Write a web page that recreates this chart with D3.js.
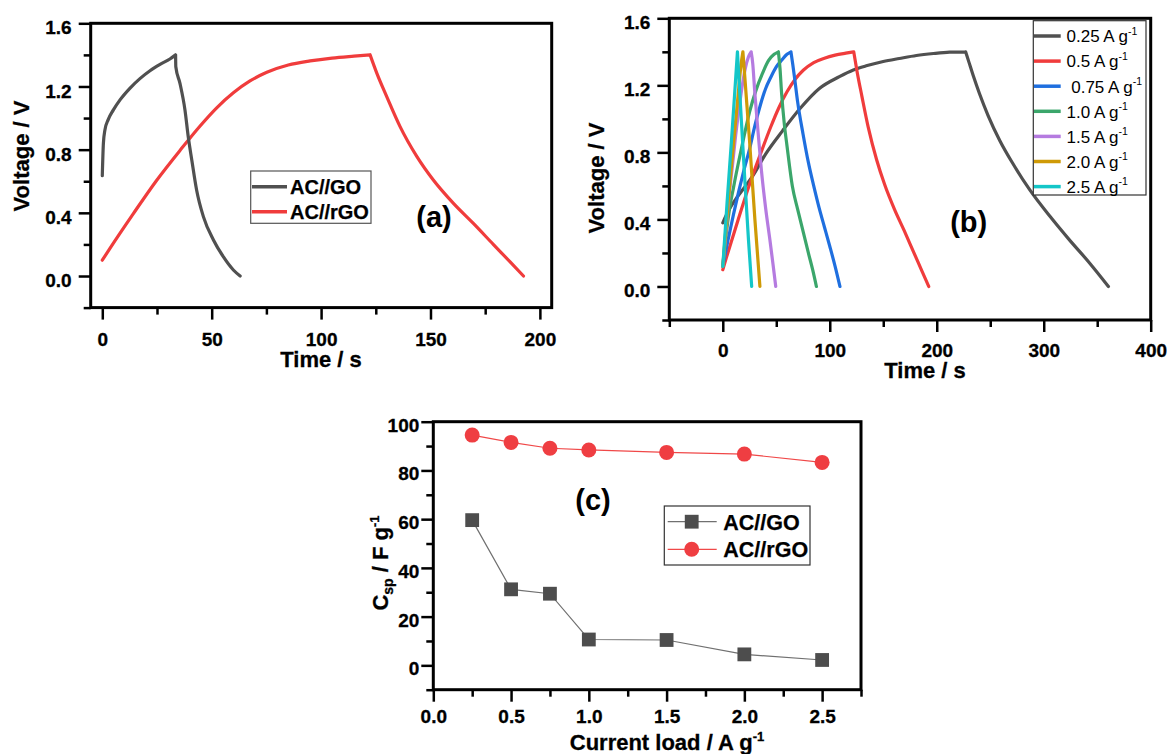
<!DOCTYPE html>
<html>
<head>
<meta charset="utf-8">
<script src="https://cdn.jsdelivr.net/npm/d3@7"></script>
<style>
  body { margin: 0; background: #fff; }
  svg text { font-family: "Liberation Sans", Arial, sans-serif; }
</style>
</head>
<body>
<svg id="fig" width="1167" height="754"></svg>
<script>
// ---------- (a) charge–discharge of the two devices ----------
const goTime  = [0, 0.5, 1.2, 2.7, 5, 8.1, 12.7, 17.2, 21.8, 26.4, 30.9, 33.5, 33.6, 35.5, 37.8, 39.3, 40.9, 43.1, 46.2, 50.8, 55.3, 59.9, 63];
const goVolt  = [0.635, 0.84, 0.925, 0.99, 1.05, 1.115, 1.19, 1.25, 1.30, 1.34, 1.374, 1.40, 1.325, 1.22, 1.05, 0.88, 0.735, 0.545, 0.376, 0.228, 0.122, 0.038, 0];
const rgoTime = [0, 3.5, 14.2, 24.8, 35.5, 44.7, 52.3, 59.9, 67.5, 75.2, 85, 95, 105, 115, 122.4, 125.5, 130, 136.1, 143.8, 151.3, 160.5, 169.6, 178.8, 186.4, 192.5];
const rgoVolt = [0.10, 0.175, 0.395, 0.605, 0.795, 0.95, 1.065, 1.16, 1.235, 1.29, 1.336, 1.362, 1.380, 1.392, 1.40, 1.283, 1.136, 0.946, 0.756, 0.608, 0.46, 0.333, 0.199, 0.089, 0];
const deviceNames = ["AC//GO", "AC//rGO"];

// ---------- (b) AC//rGO at different current densities ----------
const t025 = [0, 6, 12, 19, 28, 40, 56, 72, 90, 109, 122, 135, 150, 165, 181, 197, 212, 227, 230, 234, 240, 248, 259, 271, 287, 306, 324, 343, 360.5];
const v025 = [0.38, 0.46, 0.52, 0.58, 0.66, 0.79, 0.93, 1.06, 1.18, 1.252, 1.292, 1.318, 1.342, 1.36, 1.378, 1.39, 1.398, 1.40, 1.34, 1.26, 1.15, 1.02, 0.87, 0.735, 0.576, 0.417, 0.278, 0.139, 0];
const t05 = rgoTime, v05 = rgoVolt;
const t075 = [0, 5, 10, 15, 20, 25, 30, 35, 40, 45, 50, 55, 60, 63.7, 65.3, 67, 70, 75, 80, 85, 90, 95, 100, 105, 109.5];
const v075 = [0.12, 0.28, 0.43, 0.57, 0.70, 0.82, 0.96, 1.08, 1.18, 1.25, 1.31, 1.35, 1.385, 1.40, 1.33, 1.25, 1.10, 0.91, 0.74, 0.60, 0.47, 0.355, 0.24, 0.12, 0];
const t10 = [0, 3, 6, 10, 15, 20, 25, 31, 37, 43, 48, 52, 53.5, 55, 57.5, 60, 65, 70, 75, 80, 84, 87.5];
const v10 = [0.12, 0.30, 0.45, 0.59, 0.75, 0.90, 1.04, 1.17, 1.27, 1.35, 1.385, 1.40, 1.30, 1.15, 0.97, 0.84, 0.60, 0.46, 0.33, 0.20, 0.10, 0];
const t15 = [0, 3, 6, 9, 12, 15, 18, 21, 24, 26.5, 28, 30, 33, 36, 40, 44, 47, 49.5];
const v15 = [0.12, 0.33, 0.55, 0.72, 0.90, 1.05, 1.19, 1.30, 1.37, 1.40, 1.33, 1.15, 0.92, 0.70, 0.47, 0.28, 0.13, 0];
const t20 = [0, 5, 10, 14, 17, 18.8, 20, 25, 30, 34.7];
const v20 = [0.12, 0.50, 0.85, 1.12, 1.32, 1.40, 1.30, 0.87, 0.40, 0];
const t25 = [0, 4, 8, 11, 13.7, 15, 20, 24, 27];
const v25 = [0.12, 0.50, 0.86, 1.14, 1.40, 1.25, 0.70, 0.28, 0];
const rateLabels = ["0.25 A g", "0.5 A g", " 0.75 A g", "1.0 A g", "1.5 A g", "2.0 A g", "2.5 A g"];
const rateColors = ["#505050", "#f03c3c", "#1f6fdf", "#3ba66b", "#b57be0", "#cf9a06", "#14c6c8"];

// ---------- (c) specific capacitance vs current load ----------
const currentLoad = [0.25, 0.5, 0.75, 1.0, 1.5, 2.0, 2.5];
const cspGO  = [59.6, 31.2, 29.4, 10.6, 10.4, 4.5, 2.2];
const cspRGO = [94.5, 91.5, 89.1, 88.4, 87.4, 86.7, 83.3];

// tick values
const vMajor = [0, 0.4, 0.8, 1.2, 1.6];
const vMinor = [-0.2, 0.2, 0.6, 1.0, 1.4];
const tMajorA = [0, 50, 100, 150, 200];
const tMinorA = [25, 75, 125, 175];
const tMajorB = [0, 100, 200, 300, 400];
const tMinorB = [-50, 50, 150, 250, 350];
const cMajorY = [0, 20, 40, 60, 80, 100];
const cMinorY = [-10, 10, 30, 50, 70, 90];
const cMajorX = [0, 0.5, 1.0, 1.5, 2.0, 2.5];
const cMinorX = [0.25, 0.75, 1.25, 1.75, 2.25, 2.75];

const svg = d3.select("#fig");
const SANS = '"Liberation Sans", Arial, sans-serif';
const SERIF = '"Liberation Serif", "Times New Roman", serif';

function makePanel(c) {
  const g = svg.append("g");
  const x = d3.scaleLinear().domain(c.xDomain).range(c.xRange);
  const y = d3.scaleLinear().domain(c.yDomain).range(c.yRange);
  const bottom = c.yRange[0], left = c.xRange[0];

  const styleAxis = sel => {
    sel.select(".domain").remove();
    sel.selectAll(".tick line").attr("stroke", "#000").attr("stroke-width", 2.5);
    sel.selectAll("text").attr("font-family", SANS).attr("font-weight", "bold")
      .attr("font-size", 19).attr("fill", "#000")
      .attr("stroke", "#000").attr("stroke-width", 0.3);
  };

  g.append("g").attr("transform", `translate(0,${bottom})`)
    .call(d3.axisBottom(x).tickValues(c.xMinor).tickSize(7).tickFormat(""))
    .call(styleAxis);
  g.append("g").attr("transform", `translate(0,${bottom})`)
    .call(d3.axisBottom(x).tickValues(c.xMajor).tickSize(12).tickPadding(c.xPad).tickFormat(c.xFmt))
    .call(styleAxis);
  g.append("g").attr("transform", `translate(${left},0)`)
    .call(d3.axisLeft(y).tickValues(c.yMinor).tickSize(7).tickFormat(""))
    .call(styleAxis);
  const ya = g.append("g").attr("transform", `translate(${left},0)`)
    .call(d3.axisLeft(y).tickValues(c.yMajor).tickSize(12).tickPadding(c.yPad).tickFormat(c.yFmt))
    .call(styleAxis);
  ya.selectAll("text").attr("dy", c.yDy);

  g.append("rect")
    .attr("x", c.xRange[0]).attr("y", c.yRange[1])
    .attr("width", c.xRange[1] - c.xRange[0]).attr("height", c.yRange[0] - c.yRange[1])
    .attr("fill", "none").attr("stroke", "#000").attr("stroke-width", 3);

  const plot = g.append("g");
  return { g, plot, x, y };
}

// a curve drawn as a charge branch and a discharge branch joined at the peak
function chargeDischargePath(x, y, T, V) {
  const pts = d3.zip(T, V);
  const peak = d3.maxIndex(V);
  const line = d3.line().x(d => x(d[0])).y(d => y(d[1])).curve(d3.curveMonotoneX);
  return line(pts.slice(0, peak + 1)) + line(pts.slice(peak));
}

function supText(sel, base, sup, supSize, rise) {
  sel.append("tspan").text(base);
  sel.append("tspan").attr("font-size", supSize).attr("dy", -rise).text(sup);
}

function boldTitle(sel) {
  return sel.attr("font-family", SANS).attr("font-weight", "bold").attr("font-size", 22)
    .attr("stroke", "#000").attr("stroke-width", 0.3);
}

// ================= panel (a) =================
const A = makePanel({
  xDomain: [-5.3, 205.4], xRange: [90.7, 551.7],
  yDomain: [-0.2, 1.6], yRange: [307.6, 23.3],
  xMajor: tMajorA, xMinor: tMinorA, yMajor: vMajor, yMinor: vMinor,
  xFmt: d3.format("d"), yFmt: d3.format(".1f"), xPad: 12.5, yPad: 7, yDy: "0.56em"
});
A.plot.append("path").attr("d", chargeDischargePath(A.x, A.y, rgoTime, rgoVolt))
  .attr("fill", "none").attr("stroke", rateColors[1]).attr("stroke-width", 3.2)
  .attr("stroke-linecap", "round").attr("stroke-linejoin", "round");
A.plot.append("path").attr("d", chargeDischargePath(A.x, A.y, goTime, goVolt))
  .attr("fill", "none").attr("stroke", rateColors[0]).attr("stroke-width", 3.2)
  .attr("stroke-linecap", "round").attr("stroke-linejoin", "round");

boldTitle(svg.append("text")).attr("x", 321).attr("y", 367).attr("text-anchor", "middle").text("Time / s");
boldTitle(svg.append("text")).attr("transform", "translate(29,156) rotate(-90)").attr("text-anchor", "middle").text("Voltage / V");

const legA = svg.append("g");
legA.append("rect").attr("x", 250.7).attr("y", 171).attr("width", 120.3).attr("height", 52.3)
  .attr("fill", "#fff").attr("stroke", "#555").attr("stroke-width", 1.2);
deviceNames.forEach((name, i) => {
  const yy = 186.7 + i * 25;
  legA.append("line").attr("x1", 252).attr("x2", 287).attr("y1", yy).attr("y2", yy)
    .attr("stroke", rateColors[i]).attr("stroke-width", 3.5);
  legA.append("text").attr("x", 290).attr("y", yy + 7).attr("font-family", SANS)
    .attr("font-weight", "bold").attr("font-size", 20).attr("stroke", "#000").attr("stroke-width", 0.25).text(name);
});
svg.append("text").attr("x", 434).attr("y", 227).attr("text-anchor", "middle")
  .attr("font-family", SERIF).attr("font-weight", "bold").attr("font-size", 29).text("(a)");

// ================= panel (b) =================
const B = makePanel({
  xDomain: [-50, 400], xRange: [669.3, 1150.7],
  yDomain: [-0.2, 1.6], yRange: [320, 18.3],
  xMajor: tMajorB, xMinor: tMinorB, yMajor: vMajor, yMinor: vMinor,
  xFmt: d3.format("d"), yFmt: d3.format(".1f"), xPad: 12, yPad: 7, yDy: "0.54em"
});
const rateSeries = [[t025, v025], [t05, v05], [t075, v075], [t10, v10], [t15, v15], [t20, v20], [t25, v25]];
rateSeries.forEach(([T, V], i) => {
  B.plot.append("path").attr("d", chargeDischargePath(B.x, B.y, T, V))
    .attr("fill", "none").attr("stroke", rateColors[i]).attr("stroke-width", 3.2)
    .attr("stroke-linecap", "round").attr("stroke-linejoin", "round");
});

boldTitle(svg.append("text")).attr("x", 925).attr("y", 378).attr("text-anchor", "middle").text("Time / s");
boldTitle(svg.append("text")).attr("transform", "translate(604,178) rotate(-90)").attr("text-anchor", "middle").text("Voltage / V");

const legB = svg.append("g");
legB.append("rect").attr("x", 1033.3).attr("y", 20.7).attr("width", 112.7).attr("height", 174.3)
  .attr("fill", "#fff").attr("stroke", "#333").attr("stroke-width", 1.2);
rateLabels.forEach((lab, i) => {
  const yy = 36 + i * 25.1;
  legB.append("line").attr("x1", 1034).attr("x2", 1060.7).attr("y1", yy).attr("y2", yy)
    .attr("stroke", rateColors[i]).attr("stroke-width", 3.5);
  const t = legB.append("text").attr("x", 1066.5).attr("y", yy + 6.3).attr("font-family", SANS)
    .attr("font-size", 17).style("white-space", "pre");
  supText(t, lab, "-1", 10.5, 7.5);
});
svg.append("text").attr("x", 968.7).attr("y", 232).attr("text-anchor", "middle")
  .attr("font-family", SERIF).attr("font-weight", "bold").attr("font-size", 29).text("(b)");

// ================= panel (c) =================
const C = makePanel({
  xDomain: [0, 2.75], xRange: [433.3, 861],
  yDomain: [-10, 100], yRange: [689.7, 421.7],
  xMajor: cMajorX, xMinor: cMinorX, yMajor: cMajorY, yMinor: cMinorY,
  xFmt: d3.format(".1f"), yFmt: d3.format("d"), xPad: 8, yPad: 2, yDy: "0.5em"
});
const cLine = d3.line().x(d => C.x(d[0])).y(d => C.y(d[1]));
const goPts = d3.zip(currentLoad, cspGO);
const rgoPts = d3.zip(currentLoad, cspRGO);
C.plot.append("path").attr("d", cLine(goPts)).attr("fill", "none").attr("stroke", "#707070").attr("stroke-width", 1.2);
C.plot.selectAll("rect.go").data(goPts).join("rect").attr("class", "go")
  .attr("x", d => C.x(d[0]) - 6.9).attr("y", d => C.y(d[1]) - 6.9)
  .attr("width", 13.8).attr("height", 13.8).attr("fill", "#4d4d4d");
C.plot.append("path").attr("d", cLine(rgoPts)).attr("fill", "none").attr("stroke", "#f04848").attr("stroke-width", 1.2);
C.plot.selectAll("circle.rgo").data(rgoPts).join("circle").attr("class", "rgo")
  .attr("cx", d => C.x(d[0])).attr("cy", d => C.y(d[1])).attr("r", 7.5).attr("fill", "#ef3e42");

const cx = boldTitle(svg.append("text")).attr("x", 667).attr("y", 750).attr("text-anchor", "middle");
supText(cx, "Current load / A g", "-1", 13, 9);

const cy = boldTitle(svg.append("text")).attr("transform", "translate(388,563) rotate(-90)").attr("text-anchor", "middle");
cy.append("tspan").text("C");
cy.append("tspan").attr("font-size", 14).attr("dy", 5).text("sp");
cy.append("tspan").attr("dy", -5).text(" / F g");
cy.append("tspan").attr("font-size", 13).attr("dy", -9).text("-1");

const legC = svg.append("g");
legC.append("rect").attr("x", 664.3).attr("y", 506).attr("width", 145.7).attr("height", 59)
  .attr("fill", "#fff").attr("stroke", "#333").attr("stroke-width", 1.2);
[["#707070", "#4d4d4d", "square"], ["#f04848", "#ef3e42", "circle"]].forEach(([lc, mc, shape], i) => {
  const yy = 521.7 + i * 27.6;
  legC.append("line").attr("x1", 667.7).attr("x2", 716.7).attr("y1", yy).attr("y2", yy)
    .attr("stroke", lc).attr("stroke-width", 1.2);
  if (shape === "square") {
    legC.append("rect").attr("x", 691.7 - 6.9).attr("y", yy - 6.9).attr("width", 13.8).attr("height", 13.8).attr("fill", mc);
  } else {
    legC.append("circle").attr("cx", 691.7).attr("cy", yy).attr("r", 7.5).attr("fill", mc);
  }
  legC.append("text").attr("x", 723.3).attr("y", yy + 8).attr("font-family", SANS)
    .attr("font-weight", "bold").attr("font-size", 21.5).attr("stroke", "#000").attr("stroke-width", 0.25).text(deviceNames[i]);
});
svg.append("text").attr("x", 593).attr("y", 510).attr("text-anchor", "middle")
  .attr("font-family", SERIF).attr("font-weight", "bold").attr("font-size", 29).text("(c)");
</script>
</body>
</html>
